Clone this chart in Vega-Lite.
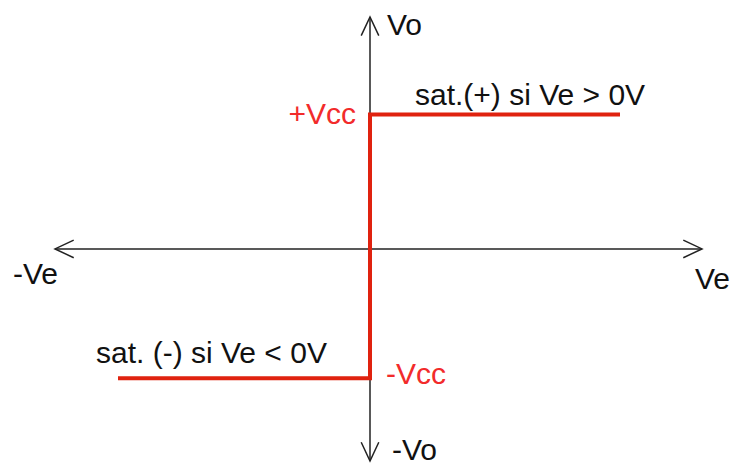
{
  "$schema": "https://vega.github.io/schema/vega-lite/v6.json",
  "width": 737,
  "height": 466,
  "autosize": {"type": "fit", "contains": "padding"},
  "padding": 0,
  "background": "white",
  "config": {"view": {"stroke": null}},
  "datasets": {
    "axes": [
      {"id": "h", "x": -3.15, "y": 0, "x2": 3.32, "y2": 0},
      {"id": "v", "x": 0, "y": -2.13, "x2": 0, "y2": 2.33}
    ],
    "curve": [
      {"i": 0, "ve": -2.52, "vo": -1.3},
      {"i": 1, "ve": 0, "vo": -1.3},
      {"i": 2, "ve": 0, "vo": 1.35},
      {"i": 3, "ve": 2.5, "vo": 1.35}
    ],
    "arrows": [
      {"x": 3.32, "y": 0, "angle": 0},
      {"x": -3.15, "y": 0, "angle": 180},
      {"x": 0, "y": 2.33, "angle": 270},
      {"x": 0, "y": -2.13, "angle": 90}
    ],
    "labels": [
      {"t": "Vo", "x": 0.17, "y": 2.15, "c": "black", "a": "left"},
      {"t": "+Vcc", "x": -0.14, "y": 1.25, "c": "red", "a": "right"},
      {"t": "sat.(+) si Ve > 0V", "x": 0.45, "y": 1.45, "c": "black", "a": "left"},
      {"t": "-Ve", "x": -3.57, "y": -0.35, "c": "black", "a": "left"},
      {"t": "Ve", "x": 3.25, "y": -0.4, "c": "black", "a": "left"},
      {"t": "sat. (-) si Ve < 0V", "x": -2.74, "y": -1.15, "c": "black", "a": "left"},
      {"t": "-Vcc", "x": 0.16, "y": -1.36, "c": "red", "a": "left"},
      {"t": "-Vo", "x": 0.22, "y": -2.12, "c": "black", "a": "left"}
    ]
  },
  "layer": [
    {
      "data": {"name": "axes"},
      "mark": {"type": "rule", "color": "#222222", "strokeWidth": 1.5},
      "encoding": {
        "x": {"field": "x", "type": "quantitative", "scale": {"domain": [-3.7, 3.67], "nice": false, "zero": false}, "axis": null},
        "y": {"field": "y", "type": "quantitative", "scale": {"domain": [-2.16, 2.5], "nice": false, "zero": false}, "axis": null},
        "x2": {"field": "x2"},
        "y2": {"field": "y2"}
      }
    },
    {
      "data": {"name": "arrows"},
      "mark": {"type": "point", "shape": "M -1 -0.47 L 0 0 L -1 0.47", "filled": false, "stroke": "#222222", "strokeWidth": 1.5, "size": 1400, "opacity": 1},
      "encoding": {
        "x": {"field": "x", "type": "quantitative"},
        "y": {"field": "y", "type": "quantitative"},
        "angle": {"field": "angle", "type": "quantitative", "scale": null}
      }
    },
    {
      "data": {"name": "curve"},
      "mark": {"type": "line", "color": "#e0220f", "strokeWidth": 4, "strokeJoin": "miter"},
      "encoding": {
        "x": {"field": "ve", "type": "quantitative"},
        "y": {"field": "vo", "type": "quantitative"},
        "order": {"field": "i"}
      }
    },
    {
      "data": {"name": "labels"},
      "transform": [{"filter": "datum.a == 'left'"}],
      "mark": {"type": "text", "font": "Liberation Sans", "fontSize": 30, "baseline": "alphabetic", "align": "left"},
      "encoding": {
        "x": {"field": "x", "type": "quantitative"},
        "y": {"field": "y", "type": "quantitative"},
        "text": {"field": "t"},
        "color": {"field": "c", "type": "nominal", "scale": {"domain": ["black", "red"], "range": ["#111111", "#f22b2b"]}, "legend": null}
      }
    },
    {
      "data": {"name": "labels"},
      "transform": [{"filter": "datum.a == 'right'"}],
      "mark": {"type": "text", "font": "Liberation Sans", "fontSize": 30, "baseline": "alphabetic", "align": "right"},
      "encoding": {
        "x": {"field": "x", "type": "quantitative"},
        "y": {"field": "y", "type": "quantitative"},
        "text": {"field": "t"},
        "color": {"field": "c", "type": "nominal", "scale": {"domain": ["black", "red"], "range": ["#111111", "#f22b2b"]}, "legend": null}
      }
    }
  ]
}
